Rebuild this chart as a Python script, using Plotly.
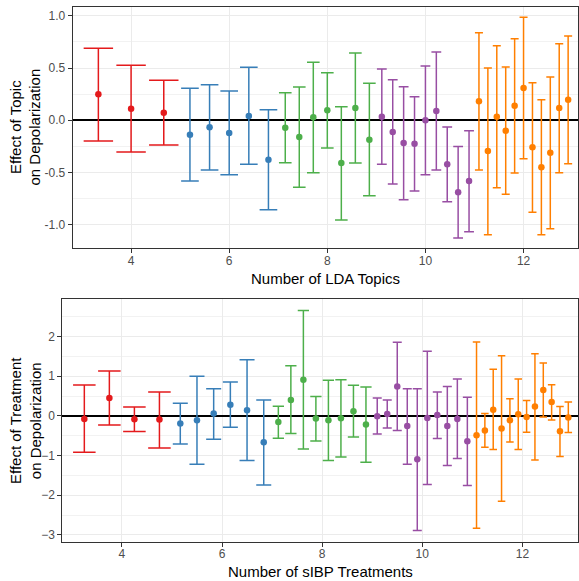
import plotly.graph_objects as go

# ---------------- data ----------------
group_centers = [4, 6, 8, 10, 12]
colors = ["#E41A1C", "#377EB8", "#4DAF4A", "#984EA3", "#FF7F00"]

# Top panel: LDA topics (estimate, lower, upper) per group
lda_est = [
    [0.249, 0.111, 0.073],
    [-0.138, -0.067, -0.122, 0.041, -0.377],
    [-0.071, -0.160, 0.029, 0.096, -0.409, 0.118, -0.186],
    [0.035, -0.112, -0.217, -0.224, 0.000, 0.089, -0.421, -0.689, -0.581],
    [0.182, -0.294, 0.035, -0.100, 0.140, 0.309, -0.258, -0.450, -0.310, 0.118, 0.197],
]
lda_lo = [
    [-0.198, -0.303, -0.236],
    [-0.581, -0.476, -0.520, -0.421, -0.855],
    [-0.406, -0.641, -0.501, -0.265, -0.954, -0.409, -0.722],
    [-0.421, -0.610, -0.760, -0.677, -0.520, -0.476, -0.779, -1.126, -1.066],
    [-0.476, -1.095, -0.645, -0.708, -0.504, -0.367, -0.880, -1.095, -1.037, -0.501, -0.415],
]
lda_hi = [
    [0.690, 0.526, 0.383],
    [0.306, 0.341, 0.280, 0.507, 0.101],
    [0.264, 0.319, 0.555, 0.456, 0.130, 0.644, 0.354],
    [0.491, 0.389, 0.322, 0.226, 0.520, 0.654, -0.064, -0.252, -0.100],
    [0.838, 0.500, 0.714, 0.510, 0.781, 0.986, 0.360, 0.197, 0.414, 0.733, 0.807],
]

# Bottom panel: sIBP treatments
sibp_est = [
    [-0.076, 0.453, -0.084, -0.092],
    [-0.193, -0.109, 0.059, 0.285, 0.143, -0.663],
    [-0.151, 0.403, 0.915, -0.067, -0.109, -0.059, 0.118, -0.218],
    [-0.008, 0.050, 0.739, -0.252, -1.092, -0.050, 0.025, -0.252, -0.076, -0.638],
    [-0.487, -0.369, 0.159, -0.319, -0.109, 0.042, -0.025, 0.235, 0.655, 0.353, -0.386, -0.042],
]
sibp_lo = [
    [-0.915, -0.227, -0.395, -0.806],
    [-0.705, -1.217, -0.588, -0.285, -1.125, -1.738],
    [-0.562, -0.445, -0.831, -0.630, -1.125, -1.033, -0.529, -1.167],
    [-0.453, -0.302, -0.369, -1.217, -2.889, -1.729, -0.571, -1.251, -1.075, -1.755],
    [-2.830, -0.789, -0.848, -2.150, -0.655, -0.848, -0.411, -1.108, -0.025, -0.101, -1.024, -0.420],
]
sibp_hi = [
    [0.781, 1.134, 0.227, 0.605],
    [0.319, 1.000, 0.688, 0.856, 1.418, 0.403],
    [0.243, 1.268, 2.660, 0.487, 0.899, 0.915, 0.772, 0.730],
    [0.453, 0.403, 1.856, 0.688, 0.688, 1.630, 0.605, 0.739, 0.932, 0.470],
    [1.864, 0.059, 1.176, 1.520, 0.436, 0.932, 0.386, 1.570, 1.335, 0.789, 0.235, 0.353],
]

x_ticks = [4, 6, 8, 10, 12]

# ---------------- layout geometry ----------------
W, H = 579, 581
x_range = [2.81, 13.11]
top_y_range = [-1.225, 1.087]
bot_y_range = [-3.17, 2.94]
top_left_px, bot_left_px, right_px = 72.7, 62.3, 578.0
top_dom_y = [(H - 248.3) / H, (H - 6.7) / H]
bot_dom_y = [(H - 541.7) / H, (H - 299.3) / H]
DODGE = 2.0
CAP_FRAC = 0.9

fig = go.Figure()


def add_panel(est, lo, hi, xa, ya, left_px):
    px_per_unit = (right_px - left_px) / (x_range[1] - x_range[0])
    for g, (c, e, l, h) in enumerate(zip(group_centers, est, lo, hi)):
        n = len(e)
        slot = DODGE / n
        xs = [c + (i - (n - 1) / 2) * slot for i in range(n)]
        cap_half_px = CAP_FRAC * slot * px_per_unit / 2
        fig.add_trace(go.Scatter(
            x=xs, y=e, mode="markers",
            marker=dict(color=colors[g], size=6.5),
            error_y=dict(type="data", symmetric=False,
                         array=[hh - ee for hh, ee in zip(h, e)],
                         arrayminus=[ee - ll for ee, ll in zip(e, l)],
                         color=colors[g], thickness=1.5, width=cap_half_px),
            xaxis=xa, yaxis=ya, showlegend=False, hoverinfo="x+y",
        ))


add_panel(lda_est, lda_lo, lda_hi, "x", "y", top_left_px)
add_panel(sibp_est, sibp_lo, sibp_hi, "x2", "y2", bot_left_px)

axis_common = dict(
    showline=True, mirror=True, linecolor="#333333", linewidth=1,
    ticks="outside", ticklen=4, tickcolor="#333333", tickwidth=1,
    tickfont=dict(family="Liberation Sans, Arial, sans-serif", size=12, color="#4D4D4D"),
    gridcolor="#EBEBEB", gridwidth=1, showgrid=True,
)

fig.update_layout(
    width=W, height=H,
    margin=dict(l=0, r=0, t=0, b=0),
    paper_bgcolor="white", plot_bgcolor="white",
    font=dict(family="Liberation Sans, Arial, sans-serif"),
    xaxis=dict(domain=[top_left_px / W, right_px / W], range=x_range, anchor="y",
               tickvals=x_ticks, zeroline=False, ticklabelstandoff=-3, **axis_common),
    yaxis=dict(domain=top_dom_y, range=top_y_range, anchor="x",
               tickvals=[-1.0, -0.5, 0.0, 0.5, 1.0],
               ticktext=["-1.0", "-0.5", "0.0", "0.5", "1.0"],
               minor=dict(dtick=0.25, tick0=0, showgrid=True, gridcolor="#F2F2F2", gridwidth=0.6, ticks=""),
               zeroline=True, zerolinecolor="black", zerolinewidth=1.5, **axis_common),
    xaxis2=dict(domain=[bot_left_px / W, right_px / W], range=x_range, anchor="y2",
                tickvals=x_ticks, zeroline=False, ticklabelstandoff=-3, **axis_common),
    yaxis2=dict(domain=bot_dom_y, range=bot_y_range, anchor="x2",
                tickvals=[-3, -2, -1, 0, 1, 2],
                minor=dict(dtick=0.5, tick0=0, showgrid=True, gridcolor="#F2F2F2", gridwidth=0.6, ticks=""),
                zeroline=True, zerolinecolor="black", zerolinewidth=1.5, **axis_common),
)

title_font = dict(family="Liberation Sans, Arial, sans-serif", size=15, color="black")
anns = [
    dict(text="Number of LDA Topics", x=(top_left_px + right_px) / 2 / W, y=(H - 278) / H,
         xanchor="center", yanchor="middle"),
    dict(text="Number of sIBP Treatments", x=(bot_left_px + right_px) / 2 / W, y=(H - 571) / H,
         xanchor="center", yanchor="middle"),
    dict(text="Effect of Topic<br>on Depolarization", x=25 / W, y=(H - 127.5) / H,
         textangle=-90, xanchor="center", yanchor="middle"),
    dict(text="Effect of Treatment<br>on Depolarization", x=25.5 / W, y=(H - 420.5) / H,
         textangle=-90, xanchor="center", yanchor="middle"),
]
for a in anns:
    fig.add_annotation(xref="paper", yref="paper", showarrow=False, font=title_font, **a)

fig.write_html("out.html", config={"displayModeBar": False},
               post_script="document.body.style.margin='0';document.body.style.overflow='hidden';")
